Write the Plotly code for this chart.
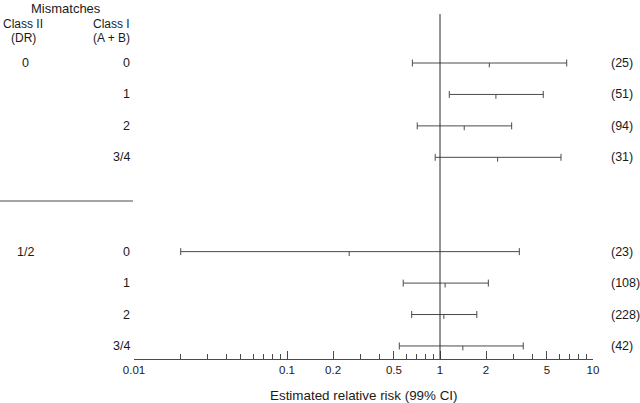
import plotly.graph_objects as go

# rows of the forest plot (top to bottom)
class2 = ["0", "", "", "", "1/2", "", "", ""]
class1 = ["0", "1", "2", "3/4", "0", "1", "2", "3/4"]
counts = ["(25)", "(51)", "(94)", "(31)", "(23)", "(108)", "(228)", "(42)"]
rr = [2.10, 2.32, 1.44, 2.38, 0.255, 1.08, 1.06, 1.41]
lo = [0.66, 1.15, 0.71, 0.93, 0.0202, 0.575, 0.653, 0.542]
hi = [6.73, 4.73, 2.94, 6.18, 3.30, 2.07, 1.74, 3.50]
row_pos = [0, 1, 2, 3, 6, 7, 8, 9]

major_ticks = [0.01, 0.1, 0.2, 0.5, 1, 2, 5, 10]
major_labels = ["0.01", "0.1", "0.2", "0.5", "1", "2", "5", "10"]
minor_ticks = [0.02, 0.03, 0.04, 0.05, 0.06, 0.07, 0.08, 0.09,
               0.3, 0.4, 0.6, 0.7, 0.8, 0.9, 3, 4, 6, 7, 8, 9]

FONT = "Liberation Sans, Arial, sans-serif"
LINE = "#4a4a4a"

# plot area in pixels: x 134..593, y 14..359
L, R, T, B = 134, 593, 14, 359


def px_x(px):
    return (px - L) / (R - L)


def px_y(py):
    return (B - py) / (B - T)


fig = go.Figure()

fig.add_trace(go.Scatter(
    x=rr, y=row_pos, mode="markers",
    marker=dict(size=1, color="rgba(0,0,0,0)"),
    error_x=dict(type="data", symmetric=False,
                 array=[h - p for h, p in zip(hi, rr)],
                 arrayminus=[p - l for p, l in zip(rr, lo)],
                 color=LINE, thickness=1, width=3.5),
    hoverinfo="skip", showlegend=False,
))

# point estimate ticks (small marks hanging under each line)
tx, ty = [], []
for p, r in zip(rr, row_pos):
    tx += [p, p, None]
    ty += [r, r + 0.14, None]
fig.add_trace(go.Scatter(x=tx, y=ty, mode="lines",
                         line=dict(color=LINE, width=1),
                         hoverinfo="skip", showlegend=False))

fig.add_vline(x=1, line=dict(color="#2a2a2a", width=1))

# separator between DR groups on the left
fig.add_shape(type="line", xref="paper", yref="paper",
              x0=px_x(0), x1=px_x(133), y0=px_y(201), y1=px_y(201),
              line=dict(color=LINE, width=1))

ann = []
txt = dict(size=12.5, color="#1a1a1a", family=FONT)
head = dict(size=12, color="#1a1a1a", family=FONT)
ann.append(dict(text="Mismatches", x=px_x(66), y=px_y(8),
                font=dict(size=13, color="#1a1a1a", family=FONT)))
ann.append(dict(text="Class II", x=px_x(23), y=px_y(24), font=head))
ann.append(dict(text="(DR)", x=px_x(23), y=px_y(38), font=head))
ann.append(dict(text="Class I", x=px_x(111), y=px_y(24), font=head))
ann.append(dict(text="(A + B)", x=px_x(111), y=px_y(38), font=head))
for a in ann:
    a.update(xref="paper", yref="paper", showarrow=False,
             xanchor="center", yanchor="middle")

for c2, c1, n, r in zip(class2, class1, counts, row_pos):
    if c2:
        ann.append(dict(text=c2, xref="paper", yref="y", x=px_x(25), y=r,
                        showarrow=False, font=txt, xanchor="center",
                        yanchor="middle"))
    ann.append(dict(text=c1, xref="paper", yref="y", x=px_x(132), y=r,
                    showarrow=False, font=txt, xanchor="right",
                    yanchor="middle"))
    ann.append(dict(text=n, xref="paper", yref="y", x=px_x(609), y=r,
                    showarrow=False, font=txt, xanchor="left",
                    yanchor="middle"))

ann.append(dict(text="Estimated relative risk (99% CI)", xref="paper",
                yref="paper", x=0.5, y=px_y(396), showarrow=False,
                font=dict(size=13.4, color="#1a1a1a", family=FONT),
                xanchor="center", yanchor="middle"))

fig.update_layout(
    width=640, height=403,
    margin=dict(l=L, r=640 - R, t=T, b=403 - B),
    paper_bgcolor="white", plot_bgcolor="white",
    font=dict(family=FONT, color="#1a1a1a"),
    annotations=ann,
    xaxis=dict(type="log", range=[-2, 1], showgrid=False, zeroline=False,
               showline=True, linecolor=LINE, linewidth=1,
               ticks="inside", ticklen=8, tickcolor=LINE, tickwidth=1,
               tickvals=major_ticks, ticktext=major_labels,
               tickfont=dict(size=11.5, family=FONT, color="#1a1a1a"),
               minor=dict(tickvals=minor_ticks, ticks="inside", ticklen=5,
                          tickcolor=LINE, tickwidth=1, showgrid=False)),
    yaxis=dict(range=[(B - 63) / 31.44, (T - 63) / 31.44],
               showgrid=False, zeroline=False, showline=False,
               showticklabels=False, ticks=""),
)

# drop the default page margin so the 640x403 figure fills the window
fig.write_html("out.html", config={"displayModeBar": False},
               post_script="document.body.style.margin='0';"
                           "document.body.style.overflow='hidden';")
